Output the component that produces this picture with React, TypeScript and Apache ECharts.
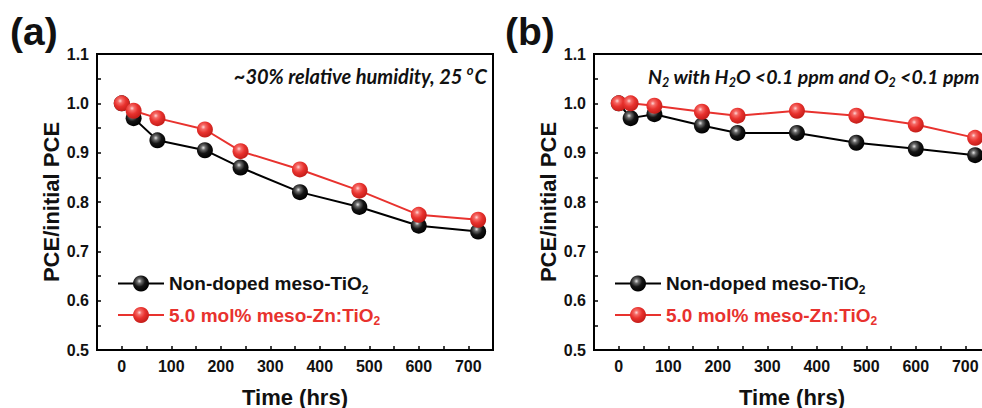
import React, { useEffect, useRef } from 'react';
import * as echarts from 'echarts';

const hours = [0, 24, 72, 168, 240, 360, 480, 600, 720];
const humidNonDoped = [1.0, 0.97, 0.925, 0.905, 0.87, 0.82, 0.79, 0.752, 0.74];
const humidZnDoped = [1.0, 0.985, 0.97, 0.947, 0.903, 0.866, 0.823, 0.774, 0.764];
const n2NonDoped = [1.0, 0.97, 0.978, 0.955, 0.94, 0.94, 0.92, 0.908, 0.895];
const n2ZnDoped = [1.0, 1.0, 0.995, 0.983, 0.975, 0.985, 0.975, 0.957, 0.93];
const seriesNames = ['Non-doped meso-TiO2', '5.0 mol% meso-Zn:TiO2'];
const panelLabels = ['(a)', '(b)'];

const FONT = 'Liberation Sans';
const RED = '#e8322e';
const FRAME = '#000';

const blackBall = () => ({
  type: 'radial', x: 0.4, y: 0.35, r: 0.65,
  colorStops: [
    { offset: 0, color: '#e6e6e6' },
    { offset: 0.22, color: '#6a6a6a' },
    { offset: 0.55, color: '#151515' },
    { offset: 1, color: '#000' },
  ],
});
const redBall = () => ({
  type: 'radial', x: 0.4, y: 0.35, r: 0.65,
  colorStops: [
    { offset: 0, color: '#ffd6d6' },
    { offset: 0.22, color: '#f56a66' },
    { offset: 0.55, color: '#e8322e' },
    { offset: 1, color: '#c41d19' },
  ],
});

const GRID_LEFTS = [97, 594];

export default function App() {
  const ref = useRef<HTMLDivElement>(null);
  useEffect(() => {
    const chart = echarts.init(ref.current!, null, { renderer: 'svg' });
    const labelStyle = { fontFamily: FONT, fontWeight: 'bold', fontSize: 16, color: '#111' };
    const nameStyle = { fontFamily: FONT, fontWeight: 'bold', fontSize: 22, color: '#111' };
    const xAxes = GRID_LEFTS.map((_, i) => ({
      type: 'value', gridIndex: i, min: -50, max: 750, interval: 50,
      axisLine: { show: true, onZero: false, lineStyle: { color: FRAME, width: 2 } },
      axisTick: { show: true, inside: true, length: 4, lineStyle: { color: FRAME, width: 1.5 } },
      axisLabel: {
        ...labelStyle, margin: 8,
        formatter: (v: number) => (v >= 0 && v <= 700 && v % 100 === 0 ? String(v) : ''),
      },
      splitLine: { show: false },
      name: 'Time (hrs)', nameLocation: 'middle', nameGap: 36, nameTextStyle: nameStyle,
    }));
    const yAxes = GRID_LEFTS.map((_, i) => ({
      type: 'value', gridIndex: i, min: 0.5, max: 1.1, interval: 0.05,
      axisLine: { show: true, onZero: false, lineStyle: { color: FRAME, width: 2 } },
      axisTick: { show: true, inside: true, length: 4, lineStyle: { color: FRAME, width: 1.5 } },
      axisLabel: {
        ...labelStyle, margin: 8,
        formatter: (v: number) => (Math.abs(Math.round(v * 10) - v * 10) < 1e-6 ? v.toFixed(1) : ''),
      },
      splitLine: { show: false },
      name: 'PCE/initial PCE', nameLocation: 'middle', nameGap: 33, nameTextStyle: nameStyle,
    }));
    const mk = (name: string, gi: number, vals: number[], red: boolean) => ({
      type: 'line', name, xAxisIndex: gi, yAxisIndex: gi,
      data: hours.map((h, k) => [h, vals[k]]),
      symbol: 'circle', symbolSize: 16,
      lineStyle: { color: red ? RED : '#000', width: 2 },
      itemStyle: { color: red ? redBall() : blackBall(), borderWidth: 0 },
      z: red ? 3 : 2,
    });
    const legends = GRID_LEFTS.map((gl) => ({
      left: gl + 15, top: 269, orient: 'vertical',
      itemWidth: 46, itemHeight: 20, itemGap: 10, selectedMode: false,
      data: [
        { name: seriesNames[0], textStyle: { color: '#111' } },
        { name: seriesNames[1], textStyle: { color: RED } },
      ],
      textStyle: {
        fontFamily: FONT, fontWeight: 'bold', fontSize: 19,
        rich: { s: { fontFamily: FONT, fontWeight: 'bold', fontSize: 12, padding: [12, 0, 0, 0] } },
      },
      formatter: (n: string) => n.replace(/2$/, '{s|2}'),
    }));
    const annoBase = { fontFamily: 'Lato', fontStyle: 'italic', fontWeight: 'bold', fontSize: 20, fill: '#111' };
    const annoRich = {
      t: { fontFamily: 'Lato', fontStyle: 'italic', fontWeight: 'bold', fontSize: 20, color: '#111' },
      s: { fontFamily: 'Lato', fontStyle: 'italic', fontWeight: 'bold', fontSize: 13, color: '#111', padding: [12, 0, 0, 0] },
      u: { fontFamily: 'Lato', fontStyle: 'italic', fontWeight: 'bold', fontSize: 13, color: '#111', padding: [0, 1, 12, 0] },
    };
    const annoRichB = {
      t: { ...annoRich.t, fontSize: 19.5 },
      s: { ...annoRich.s, fontSize: 12.5 },
    };
    chart.setOption({
      animation: false,
      grid: GRID_LEFTS.map((gl) => ({
        left: gl, top: 54, width: 396, height: 296, show: true, outerBoundsMode: 'none',
        containLabel: false, borderColor: FRAME, borderWidth: 2,
      })),
      xAxis: xAxes,
      yAxis: yAxes,
      legend: legends,
      series: [
        mk(seriesNames[0], 0, humidNonDoped, false),
        mk(seriesNames[1], 0, humidZnDoped, true),
        mk(seriesNames[0], 1, n2NonDoped, false),
        mk(seriesNames[1], 1, n2ZnDoped, true),
      ],
      graphic: [
        { type: 'text', x: 10, y: 31, style: { text: panelLabels[0], fontFamily: FONT, fontWeight: 'bold', fontSize: 39, fill: '#111', verticalAlign: 'middle' } },
        { type: 'text', x: 505, y: 31, style: { text: panelLabels[1], fontFamily: FONT, fontWeight: 'bold', fontSize: 39, fill: '#111', verticalAlign: 'middle' } },
        { type: 'text', x: 487, y: 76, style: { ...annoBase, text: '{t|~30% relative humidity, 25 }{u|o}{t|C}', rich: annoRich, align: 'right', verticalAlign: 'middle' } },
        { type: 'text', x: 648, y: 76, style: { ...annoBase, fontSize: 19.5, text: '{t|N}{s|2}{t| with H}{s|2}{t|O <0.1 ppm and O}{s|2}{t| <0.1 ppm}', rich: annoRichB, align: 'left', verticalAlign: 'middle' } },
      ],
    });
    return () => chart.dispose();
  }, []);
  return (
    <div style={{ position: 'fixed', left: 0, top: 0, width: 982, height: 408, overflow: 'hidden', background: '#fff' }}>
      <div ref={ref} style={{ width: 982, height: 408 }} />
    </div>
  );
}
